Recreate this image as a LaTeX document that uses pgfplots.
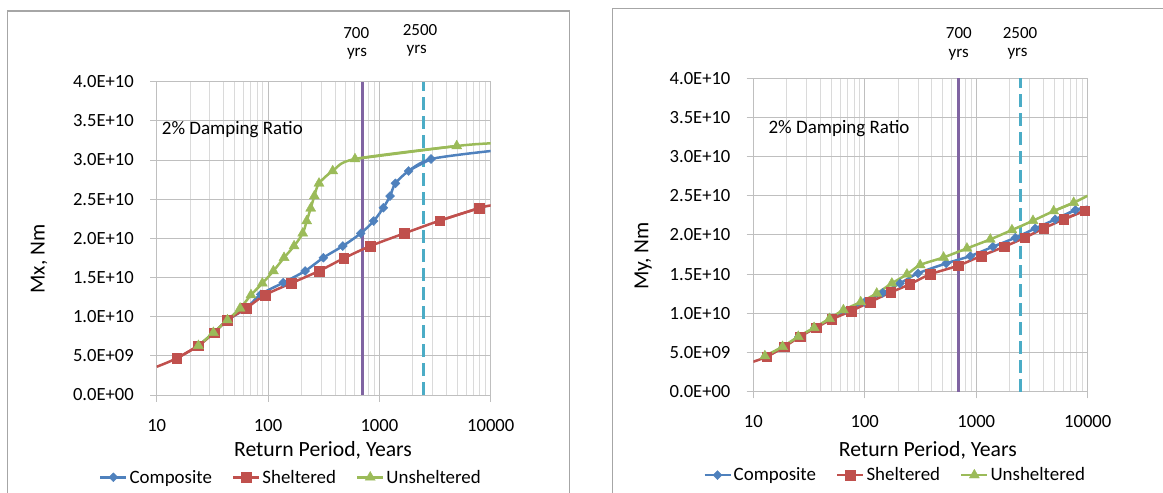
\documentclass[border=0pt]{standalone}
\usepackage{fontspec}
\setmainfont{Carlito}
\usepackage{pgfplots}
\pgfplotsset{compat=1.18}
\definecolor{cblue}{HTML}{4F81BD}
\definecolor{cred}{HTML}{C0504D}
\definecolor{cgreen}{HTML}{9BBB59}
\definecolor{cpurple}{HTML}{8064A2}
\definecolor{ccyan}{HTML}{4BACC6}
\definecolor{gridmaj}{HTML}{BFBFBF}
\definecolor{gridmin}{HTML}{DADADA}
\definecolor{framec}{HTML}{A6A6A6}

\pgfplotsset{
 legend image code/.code={\draw[mark repeat=2,mark phase=2,#1] plot coordinates {(0pt,0pt) (13pt,0pt) (26pt,0pt)};},
 every axis/.append style={
  scale only axis,
  xmin=10, xmax=10000,
  ymin=0, ymax=4e10,
  xtick={10,100,1000,10000}, xticklabels={10,100,1000,10000},
  ytick={0,5e9,1e10,1.5e10,2e10,2.5e10,3e10,3.5e10,4e10},
  yticklabels={0.0E+00,5.0E+09,1.0E+10,1.5E+10,2.0E+10,2.5E+10,3.0E+10,3.5E+10,4.0E+10},
  scaled y ticks=false,
  xmajorgrids, xminorgrids, ymajorgrids,
  major grid style={gridmaj, line width=0.9pt},
  minor grid style={gridmin, line width=0.9pt},
  axis line style={gridmaj, line width=0.9pt},
  tick align=outside, tick pos=left,
  major tick length=6.7pt, minor tick length=0pt,
  tick style={gridmaj, line width=0.9pt},
  tick label style={font=\fontsize{18.6}{20}\selectfont, text=black},
  legend columns=3,
  legend style={draw=none, fill=none, font=\fontsize{18.9}{20}\selectfont, anchor=center, inner sep=0pt,
    /tikz/every even column/.append style={column sep=18pt}},
 },
 pcomp/.style={cblue, line width=2.5pt, smooth, mark=diamond*, mark size=4.5pt,
   mark options={solid, xscale=1.33, fill=cblue, draw=cblue, line width=0.4pt}},
 pshel/.style={cred, line width=2.5pt, smooth, mark=square*, mark size=4.8pt,
   mark options={solid, fill=cred, draw=cred, line width=0.4pt}},
 punsh/.style={cgreen, line width=2.5pt, smooth, mark=triangle*, mark size=5.8pt,
   mark options={solid, fill=cgreen, draw=cgreen, line width=0.4pt}},
 pext/.style={line width=2.5pt, smooth, mark=none},
}

\begin{document}
\begin{tikzpicture}[x=1pt,y=1pt]
\path[use as bounding box] (0,0) rectangle (1163,493);
\draw[framec, line width=1.2pt] (7.3,-5) -- (7.3,482) -- (569.3,482) -- (569.3,-5);
\draw[framec, line width=1.2pt] (612.7,-5) -- (612.7,484.7) -- (1170,484.7);

% ---------------- Left: Mx ----------------
\begin{semilogxaxis}[width=334pt, height=313.3pt, at={(156.7pt,98pt)}, anchor=south west,
  yticklabel shift=12.7pt, xticklabel shift=14.5pt,
  legend style={at={(0.402,-0.2627)}}]
\addplot[forget plot, cpurple, line width=3pt] coordinates {(700,0) (700,4e10)};
\addplot[forget plot, ccyan, line width=2.5pt, dash pattern=on 13pt off 6pt] coordinates {(2500,0) (2500,4e10)};
% line extensions to the plot edges
\addplot[forget plot, pext, cred] coordinates {(10,3.6e9) (15.1,4.68e9) (23.7,6.30e9)};
\addplot[forget plot, pext, cred] coordinates {(3485,2.226e10) (7910,2.387e10) (10000,2.42e10)};
\addplot[forget plot, pext, cblue] coordinates {(1834,2.860e10) (2910,3.013e10) (10000,3.115e10)};
\addplot[forget plot, pext, cgreen] coordinates {(604,3.013e10) (4955,3.179e10) (10000,3.213e10)};
% Composite
\addplot[pcomp] coordinates {
(23.7,6.30e9) (32.7,7.96e9) (43.2,9.57e9) (63.4,1.106e10) (86,1.285e10)
(137,1.434e10) (215,1.583e10) (314,1.753e10) (469,1.902e10) (680,2.064e10)
(889,2.221e10) (1086,2.391e10) (1247,2.540e10) (1393,2.702e10) (1834,2.860e10)
(2910,3.013e10)};
\addlegendentry{Composite}
% Sheltered
\addplot[pshel] coordinates {
(15.1,4.68e9) (23.7,6.30e9) (32.7,7.96e9) (43.2,9.57e9) (63.4,1.106e10)
(94,1.277e10) (161,1.426e10) (287,1.583e10) (478,1.745e10) (830,1.902e10)
(1678,2.064e10) (3485,2.226e10) (7910,2.387e10)};
\addlegendentry{Sheltered}
% Unsheltered
\addplot[punsh] coordinates {
(23.7,6.30e9) (32.3,7.96e9) (43.2,9.57e9) (56.1,1.106e10) (70.3,1.277e10)
(88.9,1.426e10) (111.7,1.583e10) (139.3,1.753e10) (171.4,1.902e10) (204.9,2.064e10)
(222.4,2.221e10) (241.6,2.383e10) (260.6,2.540e10) (287,2.702e10) (381,2.860e10)
(604,3.013e10) (4955,3.179e10)};
\addlegendentry{Unsheltered}
\end{semilogxaxis}

% ---------------- Right: My ----------------
\begin{semilogxaxis}[width=334.4pt, height=313.6pt, at={(753.3pt,101.3pt)}, anchor=south west,
  yticklabel shift=12.7pt, xticklabel shift=13pt,
  legend style={at={(0.424,-0.266)}}]
\addplot[forget plot, cpurple, line width=3pt] coordinates {(700,0) (700,4e10)};
\addplot[forget plot, ccyan, line width=2.5pt, dash pattern=on 13pt off 6pt] coordinates {(2500,0) (2500,4e10)};
\addplot[forget plot, pext, cred] coordinates {(10,3.83e9) (13.2,4.46e9) (19.0,5.74e9)};
\addplot[forget plot, pext, cred] coordinates {(6087,2.198e10) (9397,2.309e10) (10000,2.326e10)};
\addplot[forget plot, pext, cblue] coordinates {(5124,2.198e10) (7745,2.317e10) (10000,2.36e10)};
\addplot[forget plot, pext, cgreen] coordinates {(4951,2.304e10) (7487,2.411e10) (10000,2.50e10)};
% Composite
\addplot[pcomp] coordinates {
(13,4.50e9) (18.6,5.74e9) (25.7,7.02e9) (35.8,8.16e9) (49.3,9.27e9)
(69,1.035e10) (100,1.144e10) (145,1.260e10) (207,1.382e10) (300,1.509e10)
(538,1.637e10) (883,1.730e10) (1412,1.849e10) (2241,1.964e10) (3388,2.083e10)
(5124,2.198e10) (7745,2.317e10)};
\addlegendentry{Composite}
% Sheltered
\addplot[pshel] coordinates {
(13.2,4.46e9) (19.0,5.74e9) (26.2,7.02e9) (36.5,8.16e9) (50.5,9.23e9)
(75.4,1.029e10) (111.6,1.144e10) (171,1.267e10) (252,1.369e10) (386,1.497e10)
(685,1.607e10) (1101,1.730e10) (1783,1.849e10) (2716,1.964e10) (4025,2.083e10)
(6087,2.198e10) (9397,2.309e10)};
\addlegendentry{Sheltered}
% Unsheltered
\addplot[punsh] coordinates {
(12.7,4.55e9) (18.3,5.74e9) (25.3,7.02e9) (35.1,8.16e9) (48.2,9.31e9)
(64.3,1.042e10) (92,1.144e10) (128,1.254e10) (175,1.382e10) (239,1.497e10)
(314,1.616e10) (509,1.713e10) (825,1.828e10) (1336,1.943e10) (2091,2.062e10)
(3228,2.181e10) (4951,2.304e10) (7487,2.411e10)};
\addlegendentry{Unsheltered}
\end{semilogxaxis}

% ---------------- texts ----------------
\begin{scope}[every node/.style={inner sep=0pt, text=black}]
\node[font=\fontsize{17}{18}\selectfont] at (356.3,460) {700};
\node[font=\fontsize{17}{18}\selectfont] at (357,439.7) {yrs};
\node[font=\fontsize{17}{18}\selectfont] at (420,463) {2500};
\node[font=\fontsize{17}{18}\selectfont] at (416.7,442.3) {yrs};
\node[font=\fontsize{17}{18}\selectfont] at (958.8,459.7) {700};
\node[font=\fontsize{17}{18}\selectfont] at (958.7,438.7) {yrs};
\node[font=\fontsize{17}{18}\selectfont] at (1020,460.3) {2500};
\node[font=\fontsize{17}{18}\selectfont] at (1017.5,439.7) {yrs};
\node[anchor=base west, font=\fontsize{19}{20}\selectfont] at (161.7,358) {2\% Damping Ratio};
\node[anchor=base west, font=\fontsize{19}{20}\selectfont] at (768.4,359.7) {2\% Damping Ratio};
\node[rotate=90, font=\fontsize{21.5}{22}\selectfont] at (39.2,234) {Mx, Nm};
\node[rotate=90, font=\fontsize{21.5}{22}\selectfont] at (643.3,237) {My, Nm};
\node[font=\fontsize{21.7}{22}\selectfont] at (323,42.3) {Return Period, Years};
\node[font=\fontsize{21.7}{22}\selectfont] at (927.8,42.2) {Return Period, Years};
\end{scope}
\end{tikzpicture}
\end{document}
